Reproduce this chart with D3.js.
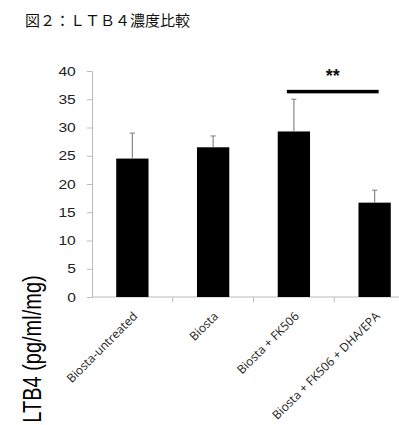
<!DOCTYPE html>
<html>
<head>
<meta charset="utf-8">
<script src="https://cdn.jsdelivr.net/npm/d3@7"></script>
<style>
  body { margin: 0; background: #fff; }
  svg { display: block; }
</style>
</head>
<body>
<svg id="chart" width="399" height="425"></svg>
<script>
const categories = ["Biosta-untreated", "Biosta", "Biosta + FK506", "Biosta + FK506 + DHA/EPA"];
const values = [24.5, 26.5, 29.3, 16.7];
const errors = [4.5, 2.0, 5.7, 2.2];
const yTicks = [0, 5, 10, 15, 20, 25, 30, 35, 40];
const titleText = "図２：ＬＴＢ４濃度比較";
const yLabel = "LTB4 (pg/ml/mg)";
const sigPair = [2, 3];
const sigLevel = 36.4;

const svg = d3.select("#chart");
const margin = { left: 92, top: 71 };
const height = 226;

let x = d3.scaleBand()
  .domain(categories)
  .range([margin.left, margin.left + 323])
  .paddingInner(0.6)
  .paddingOuter(0.3);

let y = d3.scaleLinear()
  .domain([0, 40])
  .range([margin.top + height, margin.top]);

// title
svg.append("text")
  .attr("x", 25)
  .attr("y", 26)
  .attr("font-family", "Noto Sans CJK JP")
  .attr("font-size", "15px")
  .attr("font-weight", 400)
  .attr("fill", "#111")
  .text(titleText);

// y axis
let yAxis = svg.append("g")
  .attr("transform", "translate(" + margin.left + ",0)")
  .call(d3.axisLeft(y).tickValues(yTicks).tickSize(5).tickPadding(4));
yAxis.select(".domain").attr("stroke", "#bbb");
yAxis.selectAll(".tick line").attr("stroke", "#bbb");
yAxis.selectAll(".tick text")
  .attr("font-family", "Liberation Sans, Arial, sans-serif")
  .attr("font-size", "13px")
  .attr("fill", "#222")
  .attr("transform", "translate(-9,0) scale(1.2,1)")
  .attr("x", -6);

// x axis baseline + boundary ticks
let step = x.step();
let gap = x.paddingInner() * step / 2;
svg.append("line")
  .attr("x1", margin.left).attr("x2", margin.left + step * categories.length + 10)
  .attr("y1", y(0)).attr("y2", y(0))
  .attr("stroke", "#bbb");
svg.selectAll(".xtick")
  .data(categories.slice(1))
  .enter().append("line")
  .attr("x1", d => x(d) - gap)
  .attr("x2", d => x(d) - gap)
  .attr("y1", y(0)).attr("y2", y(0) + 5)
  .attr("stroke", "#bbb");

// bars
svg.selectAll(".bar")
  .data(values)
  .enter().append("rect")
  .attr("x", (d, i) => x(categories[i]))
  .attr("y", d => y(d))
  .attr("width", x.bandwidth())
  .attr("height", d => y(0) - y(d))
  .attr("fill", "#000");

// error bars (upper only)
let errG = svg.selectAll(".err")
  .data(values)
  .enter().append("g");
errG.append("line")
  .attr("x1", (d, i) => x(categories[i]) + x.bandwidth() / 2)
  .attr("x2", (d, i) => x(categories[i]) + x.bandwidth() / 2)
  .attr("y1", d => y(d))
  .attr("y2", (d, i) => y(d + errors[i]))
  .attr("stroke", "#888").attr("stroke-width", 1.2);
errG.append("line")
  .attr("x1", (d, i) => x(categories[i]) + x.bandwidth() / 2 - 2.5)
  .attr("x2", (d, i) => x(categories[i]) + x.bandwidth() / 2 + 2.5)
  .attr("y1", (d, i) => y(d + errors[i]))
  .attr("y2", (d, i) => y(d + errors[i]))
  .attr("stroke", "#888").attr("stroke-width", 1.2);

// significance bar
let sx1 = x(categories[sigPair[0]]) + x.bandwidth() / 2 - 7;
let sx2 = x(categories[sigPair[1]]) + x.bandwidth() / 2 + 4;
svg.append("rect")
  .attr("x", sx1).attr("y", y(sigLevel) - 1.5)
  .attr("width", sx2 - sx1).attr("height", 3.5)
  .attr("fill", "#000");
svg.append("text")
  .attr("x", (sx1 + sx2) / 2)
  .attr("y", y(sigLevel) - 9)
  .attr("text-anchor", "middle")
  .attr("font-family", "Liberation Sans, Arial, sans-serif")
  .attr("font-size", "18px")
  .attr("font-weight", "bold")
  .attr("fill", "#111")
  .text("**");

// x labels
svg.selectAll(".xlabel")
  .data(categories)
  .enter().append("text")
  .attr("transform", d => "translate(" + (x(d) + x.bandwidth() / 2) + "," + (y(0) + 14) + ") rotate(-45)")
  .attr("text-anchor", "end")
  .attr("dy", "0.7em")
  .attr("font-family", "Open Sans, DejaVu Sans, sans-serif")
  .attr("font-size", "12px")
  .attr("fill", "#222")
  .text(d => d);

// y label
svg.append("text")
  .attr("transform", "translate(41,349) scale(1.3,1) rotate(-90)")
  .attr("text-anchor", "middle")
  .attr("font-family", "Liberation Sans, Arial, sans-serif")
  .attr("font-size", "20px")
  .attr("fill", "#000")
  .text(yLabel);
</script>
</body>
</html>
